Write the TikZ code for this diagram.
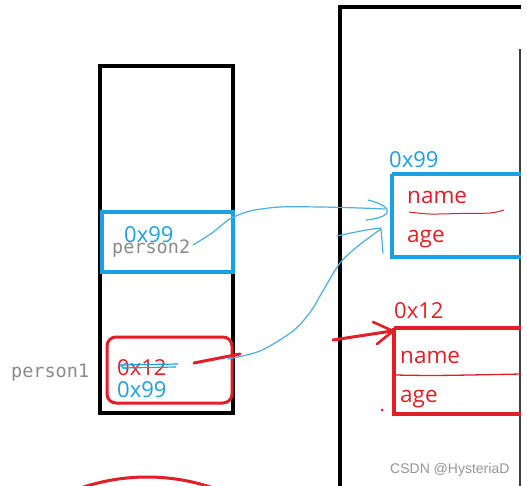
\documentclass[tikz,border=0pt]{standalone}
\usepackage{fontspec}
\setmainfont{Open Sans}
\newfontfamily\monof{DejaVu Sans Mono}
\newfontfamily\wmf{Liberation Sans}
\definecolor{sblue}{RGB}{27,161,226}
\definecolor{lblue}{RGB}{75,175,230}
\definecolor{sred}{RGB}{228,30,38}
\definecolor{pgray}{RGB}{140,140,140}
\definecolor{wgray}{RGB}{150,150,150}
\begin{document}
\begin{tikzpicture}[x=1pt,y=-1pt,
  hex/.style={font=\fontsize{22}{22}\selectfont, inner sep=0, anchor=base west},
  fld/.style={font=\fontsize{22.5}{22.5}\selectfont, text=sred, inner sep=0, anchor=base west},
  var/.style={font=\monof\fontsize{18.5}{18.5}\selectfont, text=pgray, inner sep=0, anchor=base west},
  thick box/.style={line width=3.2pt},
  pen/.style={lblue, line width=1.2pt, line cap=round, line join=round},
  redpen/.style={sred, line width=3pt, line cap=round, line join=round}]
\useasboundingbox (0,0) rectangle (527,486);
\fill[white] (0,0) rectangle (527,486);
\clip (0,0) rectangle (527,486);

% stack frame
\draw[thick box, black] (100,66) rectangle (233,413);
% heap frame
\draw[thick box, black] (340,490) -- (340,7) -- (521,7);
\draw[line width=2pt, black!75] (520,49) -- (520,490);

% stack cells
\draw[thick box, sblue] (102,212) rectangle (233,272);
\draw[line width=3pt, sred, rounded corners=9pt] (107,337) rectangle (232,403);

\node[hex, text=sblue] (p2val) at (124,243) {0x99};
\node[var] (p2) at (112,254) {person2};
\node[var] (p1) at (11,377) {person1};
\node[hex, text=sred] (old) at (117,375) {0x12};
\node[hex, text=sblue] (new) at (117,397) {0x99};
\draw[sblue, line width=1.2pt] (120,365) -- (178,364);
\draw[sblue, line width=1.2pt] (122,368) -- (176,367);
\draw[sblue, line width=1pt] (126,363) -- (121,366) -- (127,369);

% heap objects
\node[hex, text=sblue] (h99) at (389,168) {0x99};
\draw[thick box, sblue] (392,174) -- (521,174);
\draw[thick box, sblue] (521,257) -- (392,257) -- (392,174);
\node[fld] (n1) at (407,204) {name};
\node[fld] (a1) at (407,243) {age};
\draw[sred, line width=1pt] plot[smooth] coordinates {(409,212) (430,214) (460,213.5) (490,213) (504,210)};

\node[hex, text=sred] (h12) at (394,318) {0x12};
\draw[thick box, sred] (394,328) -- (521,328);
\draw[thick box, sred] (521,414) -- (394,414) -- (394,328);
\draw[sred, line width=1.3pt] plot[smooth] coordinates {(395,375) (430,375.5) (470,375) (521,374)};
\node[fld] (n2) at (400,363) {name};
\node[fld] (a2) at (400,402) {age};
\fill[sred] (382,410) circle (1.5);

% blue arrow person2 -> 0x99
\draw[pen] plot[smooth] coordinates {(193,245) (212,233) (230,219) (250,211) (280,207) (320,207) (360,208) (385,209)};
\draw[pen] (368,200) .. controls (380,203) and (390,208) .. (387,213) .. controls (384,217) and (375,219) .. (366,220);

% blue arrow person1 -> 0x99
\draw[pen] plot[smooth] coordinates {(228,359) (260,351) (293,331) (311,311) (324,289) (340,263) (358,246) (381,229)};
\draw[pen] (337,236) .. controls (355,232) and (370,229) .. (381,228);
\draw[pen] (381,229) -- (383,253);

% red stroke and red arrow
\draw[redpen] (194,363) -- (240,354);
\draw[redpen] (333,340) -- (392,331);
\draw[redpen, line width=2.6pt] (373,322) -- (393,331) -- (377,344);

% bottom red arc
\draw[sred, line width=3pt] (147,681) circle (204);

% watermark
\node[font=\wmf\fontsize{14}{14}\selectfont, text=wgray, inner sep=0, anchor=base west] (wm) at (390,473) {CSDN @HysteriaD};
\end{tikzpicture}
\end{document}
